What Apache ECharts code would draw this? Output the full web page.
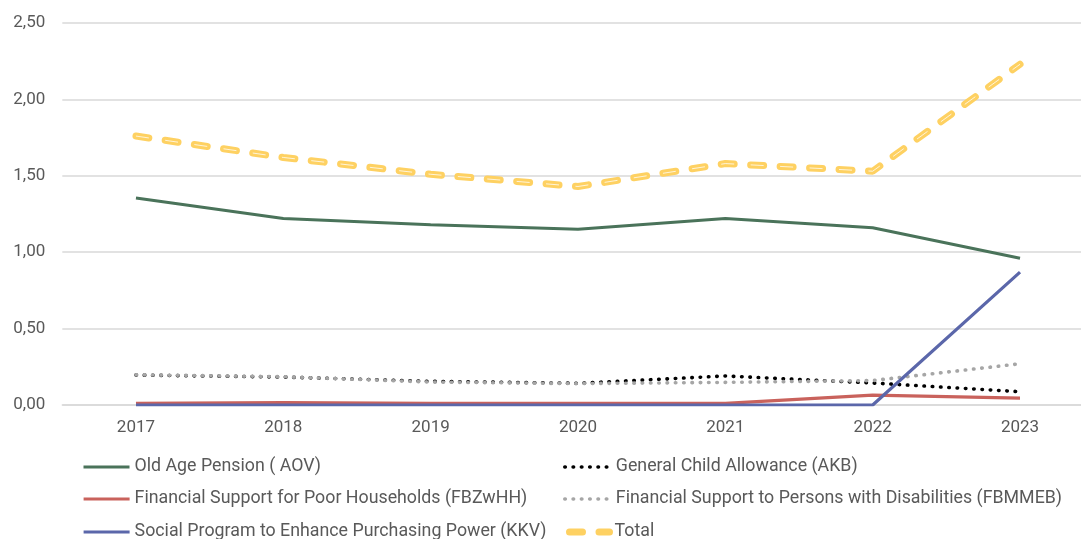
<!DOCTYPE html>
<html>
<head>
<meta charset="utf-8">
<script src="https://cdn.jsdelivr.net/npm/echarts@6/dist/echarts.min.js"></script>
<style>
  html, body { margin: 0; padding: 0; background: #fff; }
  #chart { width: 1081px; height: 539px; }
</style>
</head>
<body>
<div id="chart"></div>
<script>
// Years on the category axis
const years = ['2017', '2018', '2019', '2020', '2021', '2022', '2023'];

// Expenditure per programme (comma-decimal labels)
const aov    = [1.355, 1.22, 1.18, 1.15, 1.22, 1.16, 0.96];
const akb    = [0.196, 0.183, 0.155, 0.142, 0.190, 0.144, 0.087];
const fbzwhh = [0.010, 0.015, 0.010, 0.010, 0.010, 0.065, 0.045];
const fbmmeb = [0.198, 0.185, 0.150, 0.140, 0.148, 0.160, 0.270];
const kkv    = [0, 0, 0, 0, 0, 0, 0.87];
const total  = [1.76, 1.62, 1.51, 1.43, 1.58, 1.53, 2.23];

// Series names
const names = {
  aov: 'Old Age Pension ( AOV)',
  akb: 'General Child Allowance (AKB)',
  fbzwhh: 'Financial Support for Poor Households (FBZwHH)',
  fbmmeb: 'Financial Support to Persons with Disabilities (FBMMEB)',
  kkv: 'Social Program to Enhance Purchasing Power (KKV)',
  total: 'Total'
};

const FONT = 'Roboto';
const TEXT = '#595959';

const chart = echarts.init(document.getElementById('chart'), null, { renderer: 'canvas' });

function line(name, data, style, z) {
  return {
    name: name,
    type: 'line',
    data: data,
    symbol: 'none',
    smooth: false,
    z: z,
    lineStyle: style,
    itemStyle: { color: style.color },
    emphasis: { disabled: true }
  };
}

// one legend entry per slot: two columns, three rows
function legendItem(name, left, top, gap, lineWidth, extra) {
  return Object.assign({
    left: left, top: top, orient: 'horizontal', padding: 0,
    itemWidth: 46, itemHeight: 14, itemTextGap: gap,
    itemStyle: { opacity: 0 },
    lineStyle: { width: lineWidth },
    textStyle: { color: TEXT, fontFamily: FONT, fontSize: 17.8 },
    data: [name]
  }, extra || {});
}

chart.setOption({
  animation: false,
  backgroundColor: '#ffffff',
  // the plot area runs past the right edge of the canvas
  grid: { left: 62.3, right: -12.7, top: 23, bottom: 134, containLabel: false, outerBoundsMode: 'none' },
  xAxis: {
    type: 'category',
    data: years,
    boundaryGap: true,
    axisLine: { show: true, lineStyle: { color: '#d9d9d9', width: 1.5 } },
    axisTick: { show: false },
    axisLabel: { color: TEXT, fontFamily: FONT, fontSize: 17, margin: 14 }
  },
  yAxis: {
    type: 'value',
    min: 0,
    max: 2.5,
    interval: 0.5,
    axisLine: { show: false },
    axisTick: { show: false },
    splitLine: { lineStyle: { color: '#d9d9d9', width: 1.5 } },
    axisLabel: {
      color: TEXT, fontFamily: FONT, fontSize: 17, margin: 17,
      formatter: v => v.toFixed(2).replace('.', ',')
    }
  },
  legend: [
    legendItem(names.aov, 82, 458, 6, 3),
    legendItem(names.fbzwhh, 82, 490, 6, 3.2),
    legendItem(names.kkv, 82, 523, 6, 3.2),
    legendItem(names.akb, 563, 458, 8, 3.6),
    legendItem(names.fbmmeb, 563, 490, 8, 3.6),
    legendItem(names.total, 566, 523, 5, 7, { itemWidth: 40 })
  ],
  series: [
    line(names.aov, aov, { color: '#4a735a', width: 3 }, 2),
    line(names.akb, akb, { color: '#000000', width: 3.6, type: [0.5, 7.8], cap: 'round' }, 3),
    line(names.fbzwhh, fbzwhh, { color: '#c9625c', width: 3.2 }, 2),
    line(names.fbmmeb, fbmmeb, { color: '#a6a6a6', width: 3.6, type: [0.5, 7.8], cap: 'round' }, 3),
    line(names.kkv, kkv, { color: '#5b67aa', width: 3.2 }, 4),
    line(names.total, total, { color: '#fed162', width: 7, type: [13, 16.5], cap: 'round' }, 5),
    // thin highlight running through each dash of the total line
    line(names.total, total, { color: 'rgba(255,255,255,0.75)', width: 1, type: [13, 16.5], cap: 'butt' }, 6)
  ]
});
</script>
</body>
</html>
